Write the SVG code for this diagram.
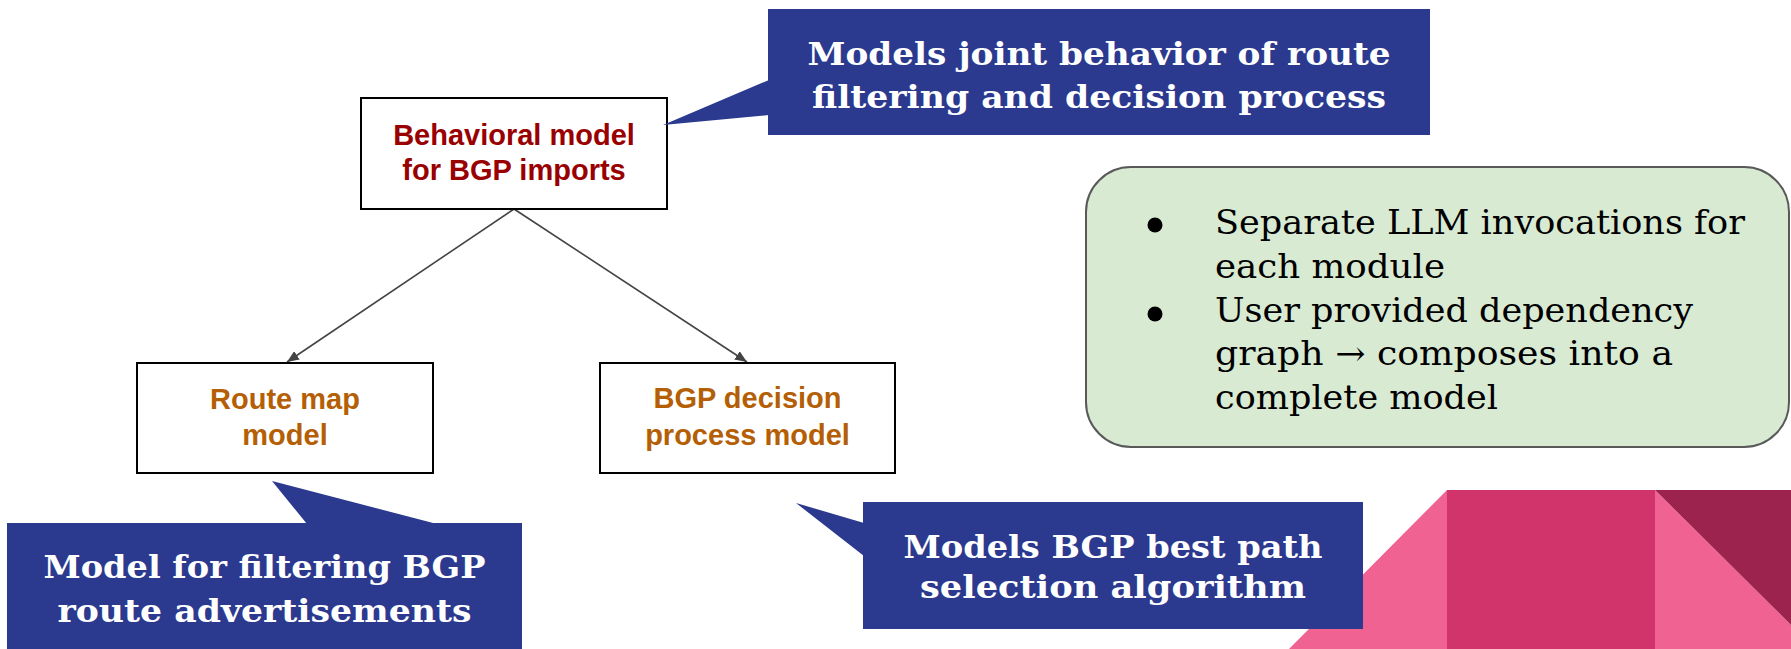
<svg xmlns="http://www.w3.org/2000/svg" width="1791" height="649" viewBox="0 0 1791 649">
  <style>
    .box { fill: #ffffff; stroke: #000000; stroke-width: 2; }
    .node-top { font-family: "Liberation Sans", Arial, sans-serif; font-weight: bold; font-size: 29px; fill: #990000; text-anchor: middle; }
    .node-sub { font-family: "Liberation Sans", Arial, sans-serif; font-weight: bold; font-size: 29px; fill: #b45f06; text-anchor: middle; }
    .callout { fill: #2b3a8f; }
    .callout-text { font-family: "DejaVu Serif", "Liberation Serif", serif; font-weight: bold; font-size: 32px; fill: #ffffff; text-anchor: middle; }
    .edge { stroke: #444444; stroke-width: 1.6; fill: none; }
    .note { fill: #d9ead3; stroke: #595959; stroke-width: 2; }
    .note-text { font-family: "DejaVu Serif", "Liberation Serif", serif; font-size: 34px; fill: #000000; }
  </style>
  <defs>
    <marker id="arrowhead" viewBox="0 0 12 10" refX="12" refY="5" markerWidth="12" markerHeight="10" markerUnits="userSpaceOnUse" orient="auto">
      <path d="M0,0 L12,5 L0,10 z" fill="#444444"/>
    </marker>
  </defs>

  <rect width="1791" height="649" fill="#ffffff"/>

  <!-- decorative corner shapes -->
  <g id="corner-decor">
    <polygon points="1447,490 1447,649 1289,649" fill="#f06292"/>
    <rect x="1447" y="490" width="208" height="159" fill="#d1346a"/>
    <polygon points="1655,490 1791,625 1791,649 1655,649" fill="#f06292"/>
    <polygon points="1655,490 1791,490 1791,625" fill="#9c234d"/>
  </g>

  <!-- connectors -->
  <g id="connectors">
    <line class="edge" x1="514" y1="209" x2="287" y2="362" marker-end="url(#arrowhead)"/>
    <line class="edge" x1="514" y1="209" x2="747" y2="362" marker-end="url(#arrowhead)"/>
  </g>

  <!-- module nodes -->
  <g id="node-behavioral">
    <rect class="box" x="361" y="98" width="306" height="111"/>
    <text class="node-top" x="514" y="145">Behavioral model</text>
    <text class="node-top" x="514" y="180">for BGP imports</text>
  </g>

  <g id="node-route-map">
    <rect class="box" x="137" y="363" width="296" height="110"/>
    <text class="node-sub" x="285" y="409">Route map</text>
    <text class="node-sub" x="285" y="445">model</text>
  </g>

  <g id="node-decision">
    <rect class="box" x="600" y="363" width="295" height="110"/>
    <text class="node-sub" x="747.5" y="408">BGP decision</text>
    <text class="node-sub" x="747.5" y="445">process model</text>
  </g>

  <!-- annotation callouts -->
  <g id="callout-joint">
    <polygon class="callout" points="769,80 663,125 769,115"/>
    <rect class="callout" x="768" y="9" width="662" height="126"/>
    <text class="callout-text" x="1099" y="65" textLength="583" lengthAdjust="spacingAndGlyphs">Models joint behavior of route</text>
    <text class="callout-text" x="1099" y="108" textLength="574" lengthAdjust="spacingAndGlyphs">filtering and decision process</text>
  </g>

  <g id="callout-filtering">
    <polygon class="callout" points="307,524 272,481 437,524"/>
    <rect class="callout" x="7" y="523" width="515" height="126"/>
    <text class="callout-text" x="264.5" y="578" textLength="442" lengthAdjust="spacingAndGlyphs">Model for filtering BGP</text>
    <text class="callout-text" x="264.5" y="622" textLength="414" lengthAdjust="spacingAndGlyphs">route advertisements</text>
  </g>

  <g id="callout-bestpath">
    <polygon class="callout" points="864,523 796,503 864,556"/>
    <rect class="callout" x="863" y="502" width="500" height="127"/>
    <text class="callout-text" x="1113" y="558" textLength="419" lengthAdjust="spacingAndGlyphs">Models BGP best path</text>
    <text class="callout-text" x="1113" y="598" textLength="386" lengthAdjust="spacingAndGlyphs">selection algorithm</text>
  </g>

  <!-- summary note -->
  <g id="note-summary">
    <rect class="note" x="1086" y="167" width="703" height="280" rx="45" ry="45"/>
    <circle cx="1155" cy="225" r="7.5" fill="#000000"/>
    <circle cx="1155" cy="314" r="7.5" fill="#000000"/>
    <text class="note-text" x="1215" y="234" textLength="530" lengthAdjust="spacingAndGlyphs">Separate LLM invocations for</text>
    <text class="note-text" x="1215" y="278" textLength="230" lengthAdjust="spacingAndGlyphs">each module</text>
    <text class="note-text" x="1215" y="322" textLength="478" lengthAdjust="spacingAndGlyphs">User provided dependency</text>
    <text class="note-text" x="1215" y="365" textLength="458" lengthAdjust="spacingAndGlyphs">graph → composes into a</text>
    <text class="note-text" x="1215" y="409" textLength="283" lengthAdjust="spacingAndGlyphs">complete model</text>
  </g>
</svg>
